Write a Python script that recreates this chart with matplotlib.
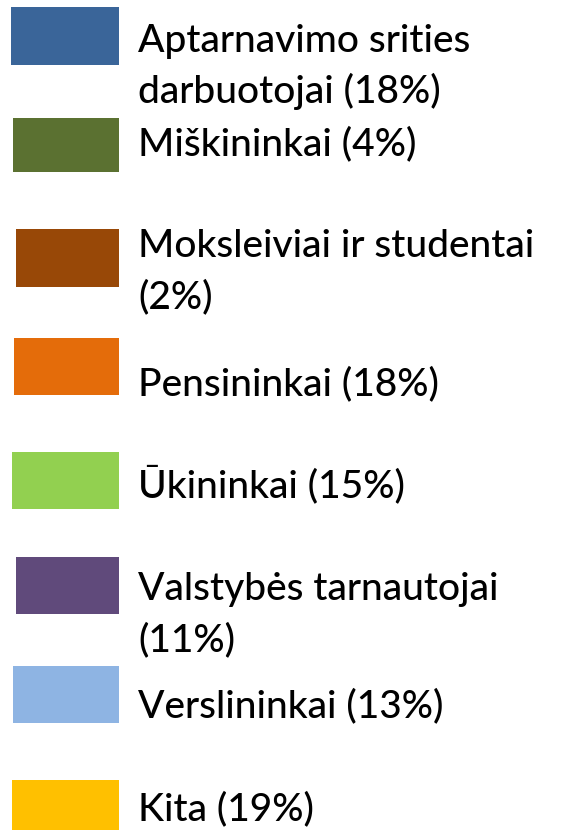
import matplotlib
matplotlib.use("Agg")
import matplotlib.pyplot as plt
from matplotlib.patches import Rectangle

# legend entries (pie chart legend only)
labels = ["Aptarnavimo srities\ndarbuotojai", "Miškininkai", "Moksleiviai ir studentai\n", "Pensininkai",
          "Ūkininkai", "Valstybės tarnautojai\n", "Verslininkai", "Kita"]
shares = [18, 4, 2, 18, 15, 11, 13, 19]
colors = ["#3A6599", "#5B7131", "#984807", "#E46C0A", "#92D050", "#604A7B", "#8EB4E3", "#FFC000"]

# layout in pixels (swatch box: left, top, bottom; first text baseline)
sw_left = [11, 13, 16, 14, 12, 16, 13, 12]
sw_top = [7, 118, 229, 338, 452, 557, 666, 780]
sw_bot = [65, 172, 287, 395, 509, 614, 723, 838]
base = [52, 155, 257, 395, 497, 600, 717, 820]
line_h = 51

plt.rcParams['font.family'] = ['Lato', 'DejaVu Sans']

fig = plt.figure(figsize=(5.68, 8.30), dpi=100)
ax = fig.add_axes([0, 0, 1, 1])
ax.set_xlim(0, 568)
ax.set_ylim(830, 0)
ax.axis('off')

for i, lab in enumerate(labels):
    ax.add_patch(Rectangle((sw_left[i], sw_top[i]), 118.5 - sw_left[i], sw_bot[i] - sw_top[i],
                           facecolor=colors[i], edgecolor='none'))
    text = lab + (" (%d%%)" % shares[i] if not lab.endswith("\n") else "(%d%%)" % shares[i])
    for j, line in enumerate(text.split("\n")):
        ax.text(138, base[i] + j * line_h, line, fontsize=28, fontweight='medium',
                va='baseline', ha='left', color='black')

fig.savefig("out.png", dpi=100)
